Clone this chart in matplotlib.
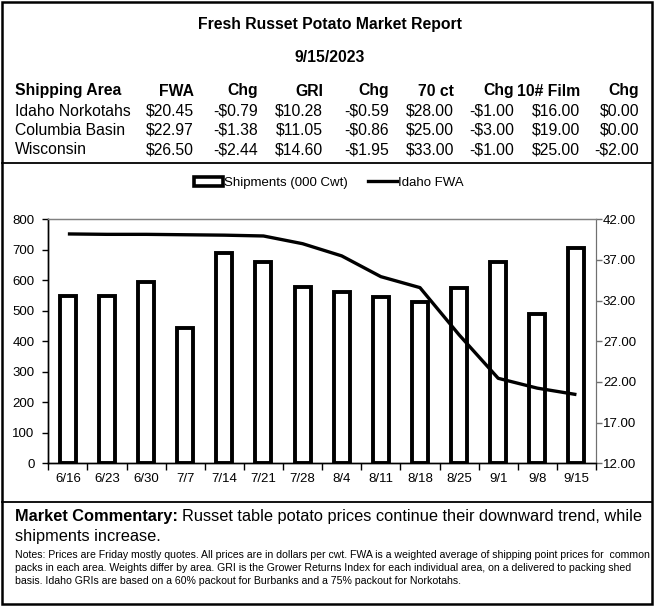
import matplotlib
matplotlib.use("Agg")
import matplotlib.pyplot as plt
from matplotlib.lines import Line2D
from matplotlib.patches import Rectangle, Patch
import numpy as np

plt.rcParams['font.family'] = ['Liberation Sans', 'DejaVu Sans']

# table data
headers = ["Shipping Area", "FWA", "Chg", "GRI", "Chg", "70 ct", "Chg", "10# Film", "Chg"]
areas = ["Idaho Norkotahs", "Columbia Basin", "Wisconsin"]
fwa = [20.45, 22.97, 26.50]
fwa_chg = [-0.79, -1.38, -2.44]
gri = [10.28, 11.05, 14.60]
gri_chg = [-0.59, -0.86, -1.95]
ct70 = [28.00, 25.00, 33.00]
ct70_chg = [-1.00, -3.00, -1.00]
film = [16.00, 19.00, 25.00]
film_chg = [0.00, 0.00, -2.00]

# chart data
weeks = ["6/16", "6/23", "6/30", "7/7", "7/14", "7/21", "7/28",
         "8/4", "8/11", "8/18", "8/25", "9/1", "9/8", "9/15"]
shipments = [548, 548, 595, 444, 688, 661, 577, 563, 546, 528, 574, 659, 489, 707]
idaho_fwa = [40.20, 40.15, 40.15, 40.10, 40.05, 39.95, 39.00,
             37.50, 34.95, 33.60, 27.80, 22.45, 21.24, 20.45]

commentary = "Russet table potato prices continue their downward trend, while"
commentary2 = "shipments increase."
notes = ["Notes: Prices are Friday mostly quotes. All prices are in dollars per cwt. FWA is a weighted average of shipping point prices for  common",
         "packs in each area. Weights differ by area. GRI is the Grower Returns Index for each individual area, on a delivered to packing shed",
         "basis. Idaho GRIs are based on a 60% packout for Burbanks and a 75% packout for Norkotahs."]

W, H = 657, 607
fig = plt.figure(figsize=(W / 100, H / 100), dpi=100)


def fx(px):
    return px / W


def fy(py):
    return 1 - py / H


def money(v):
    s = "$%.2f" % abs(v)
    return "-" + s if v < 0 else s


FS = 11.3

# title block
fig.text(fx(330), fy(25), "Fresh Russet Potato Market Report", ha="center", va="center",
         fontsize=FS, fontweight="bold")
fig.text(fx(330), fy(58), "9/15/2023", ha="center", va="center", fontsize=FS, fontweight="bold")

col_right = [194, 258, 323, 389, 454, 514, 580, 639]
fig.text(fx(15), fy(91), headers[0], ha="left", va="center", fontsize=FS, fontweight="bold")
for h, xr in zip(headers[1:], col_right):
    fig.text(fx(xr), fy(91), h, ha="right", va="center", fontsize=FS, fontweight="bold")

row_y = [111, 130.5, 150]
cols = [fwa, fwa_chg, gri, gri_chg, ct70, ct70_chg, film, film_chg]
for i, area in enumerate(areas):
    fig.text(fx(15), fy(row_y[i]), area, ha="left", va="center", fontsize=FS)
    for c, xr in zip(cols, col_right):
        fig.text(fx(xr), fy(row_y[i]), money(c[i]), ha="right", va="center", fontsize=FS)

# chart
ax = fig.add_axes([fx(48.3), fy(463.3), (596 - 48.3) / W, (463.3 - 219.3) / H])
x = np.arange(len(weeks))
bars = ax.bar(x, shipments, width=0.41, color="white", edgecolor="black", linewidth=2.8, zorder=2)
ax.set_xlim(-0.5, len(weeks) - 0.5)
ax.set_ylim(0, 800)
ax.set_yticks(range(0, 801, 100))
ax.set_xticks(x)
ax.set_xticklabels(weeks)
ax.set_xticks(np.arange(-0.5, len(weeks), 1), minor=True)
ax.tick_params(axis="x", which="major", length=0, pad=7, labelsize=9.5)
ax.tick_params(axis="x", which="minor", length=5, width=1, direction="out")
ax.tick_params(axis="y", length=4, width=1, direction="out", labelsize=9.5, pad=6)

ax2 = ax.twinx()
ax2.plot(x, idaho_fwa, color="black", linewidth=2.4, solid_capstyle="butt", zorder=3)
ax2.set_ylim(12, 42)
ax2.set_yticks(np.arange(12, 43, 5))
ax2.set_yticklabels(["%.2f" % v for v in np.arange(12, 43, 5)])
ax2.tick_params(axis="y", length=4, width=1, direction="out", labelsize=9.5, pad=1, color="#707070")

for a in (ax, ax2):
    a.spines["top"].set_color("#808080")
    a.spines["top"].set_linewidth(0.9)
    a.spines["right"].set_color("#707070")
    a.spines["left"].set_linewidth(1.0)
    a.spines["bottom"].set_linewidth(1.0)

handles = [Patch(facecolor="white", edgecolor="black", linewidth=2.6, label="Shipments (000 Cwt)"),
           Line2D([], [], color="black", linewidth=2.4, label="Idaho FWA")]
fig.legend(handles=handles, loc="center", bbox_to_anchor=(fx(329), fy(183)), ncol=2,
           frameon=False, fontsize=9.5, handlelength=2.2, handletextpad=0.1, columnspacing=1.5)

# commentary
CS = 11.75
t1 = fig.text(fx(15), fy(517), "Market Commentary:", ha="left", va="center", fontsize=CS, fontweight="bold")
fig.canvas.draw()
bb = t1.get_window_extent()
fig.text(fx(bb.x1 + 4), fy(517), commentary, ha="left", va="center", fontsize=CS)
fig.text(fx(15), fy(537), commentary2, ha="left", va="center", fontsize=CS)
for ny, line in zip([555, 568, 581], notes):
    fig.text(fx(15), fy(ny), line, ha="left", va="center", fontsize=7.6)

# frame and dividers
fig.add_artist(Rectangle((fx(1.5), fy(603.5)), fx(652) - fx(1.5), fy(2) - fy(603.5),
                         transform=fig.transFigure, fill=False, edgecolor="black", linewidth=1.8))
for yy in (163.5, 501.7):
    fig.add_artist(Line2D([fx(1.5), fx(652)], [fy(yy), fy(yy)], transform=fig.transFigure,
                          color="black", linewidth=1.3))

fig.savefig("out.png", dpi=100)
